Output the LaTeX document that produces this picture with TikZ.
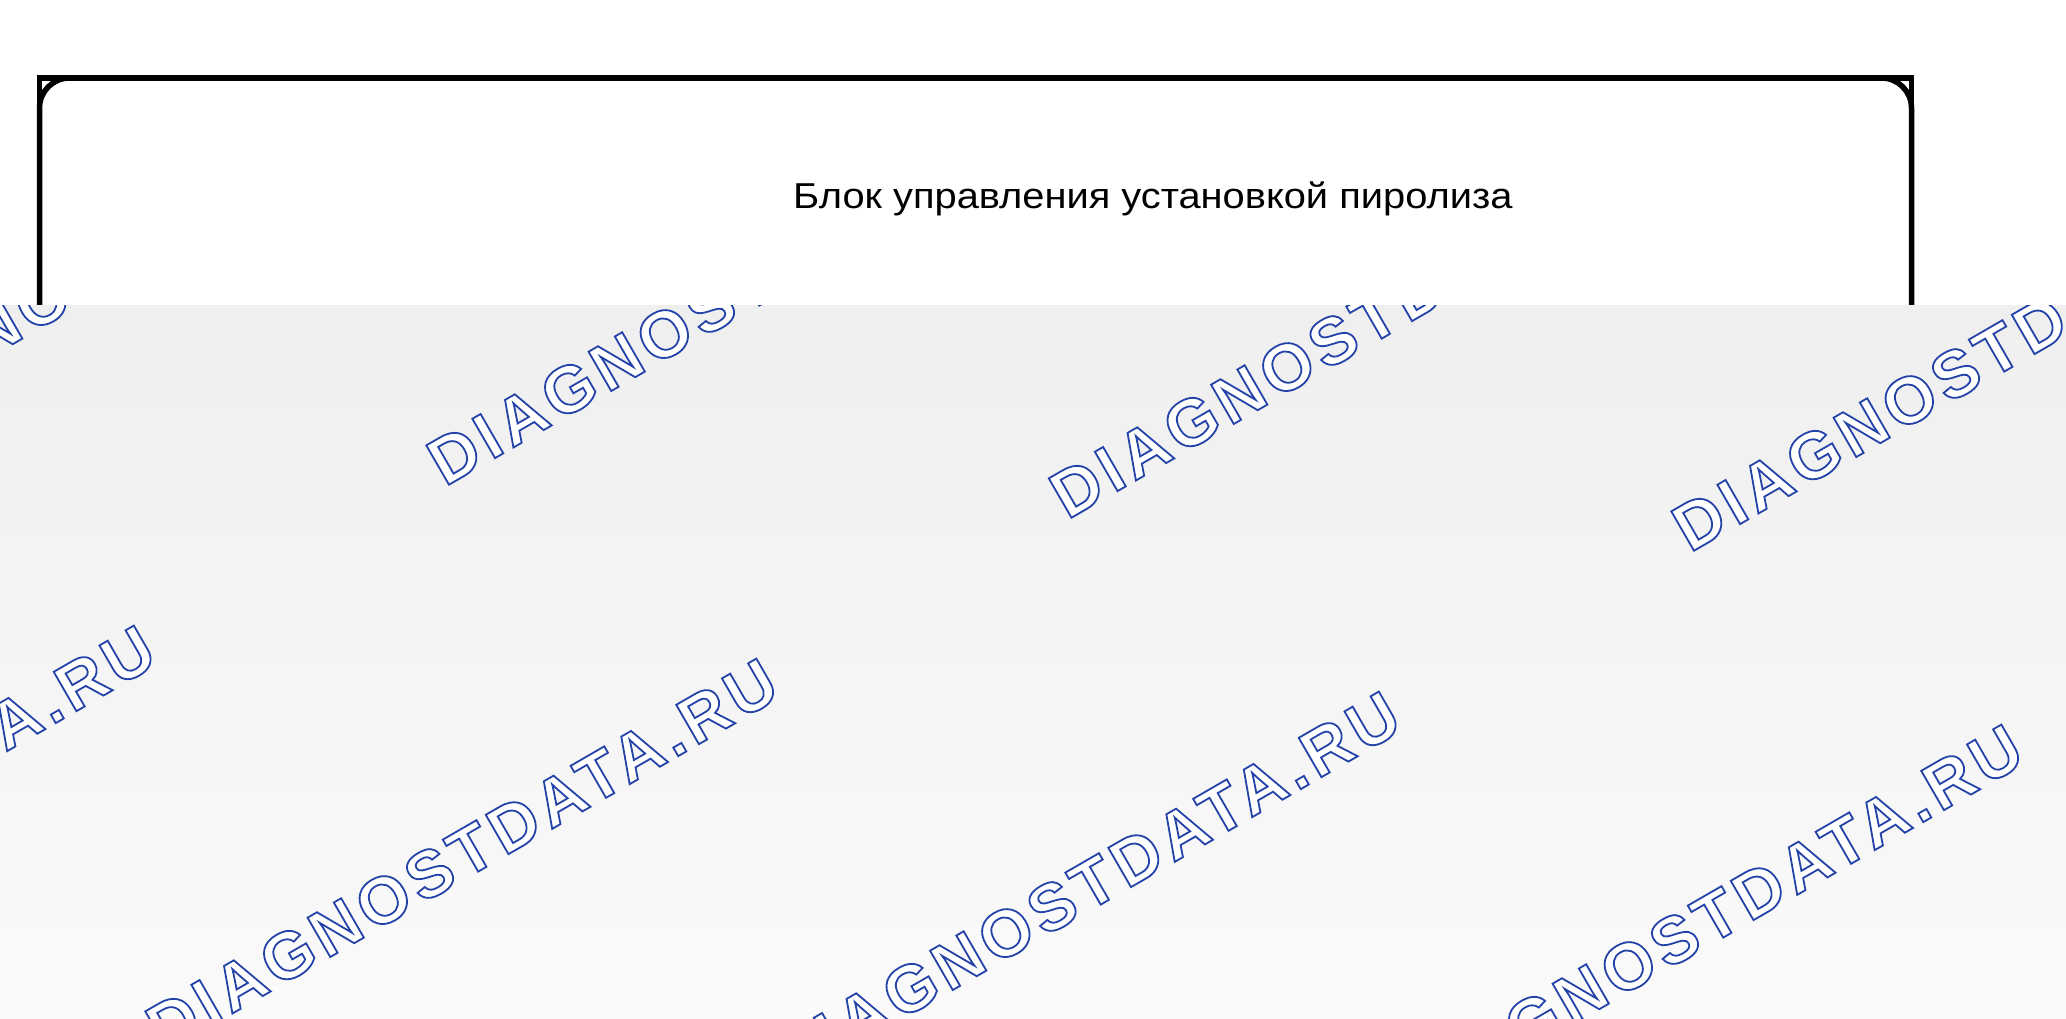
\documentclass[tikz,border=0pt]{standalone}
\usepackage{fontspec}
\setmainfont{Liberation Sans}
\newfontfamily\wmfont{Liberation Sans}[LetterSpace=8.5]
\definecolor{greytop}{HTML}{EFEFF0}
\definecolor{greymid}{HTML}{F1F1F2}
\definecolor{greybot}{HTML}{FAFAFA}
\newcommand{\wmoutline}[1]{\textcolor{white}{\special{pdf:literal direct 0.141 0.263 0.659 RG 1.8 w 2 Tr}#1\special{pdf:literal direct 0 Tr}}}
\begin{document}
\begin{tikzpicture}[x=1pt,y=-1pt,
  frame/.style={line width=5.5pt},
  wm/.style={rotate=30,anchor=base west,inner sep=0pt,
    font=\wmfont\fontsize{66}{66}\selectfont\bfseries}]
\useasboundingbox (0,0) rectangle (2066,1018);
\fill[white] (0,0) rectangle (2066,1018);
\draw[frame] (39.5,78) rectangle (1911.5,1000);
\draw[frame, rounded corners=30pt] (39.5,78) rectangle (1911.5,1000);
\node[anchor=base west, inner sep=0pt, xscale=1.106, font=\fontsize{36}{36}\selectfont] (title) at (793,208) {Блок управления установкой пиролиза};
\shade[top color=greytop, middle color=greymid, bottom color=greybot] (0,305) rectangle (2066,1018);
\begin{scope}
\clip (0,305) rectangle (2066,1018);
\foreach \r in {0,1} {
  \foreach \c in {-1,...,3} {
    \node[wm] (wm\r\c) at ({445+622.5*\c-281*\r},{487+33*\c+566*\r}) {\wmoutline{DIAGNOSTDATA.RU}};
  }
}
\end{scope}
\end{tikzpicture}
\end{document}
